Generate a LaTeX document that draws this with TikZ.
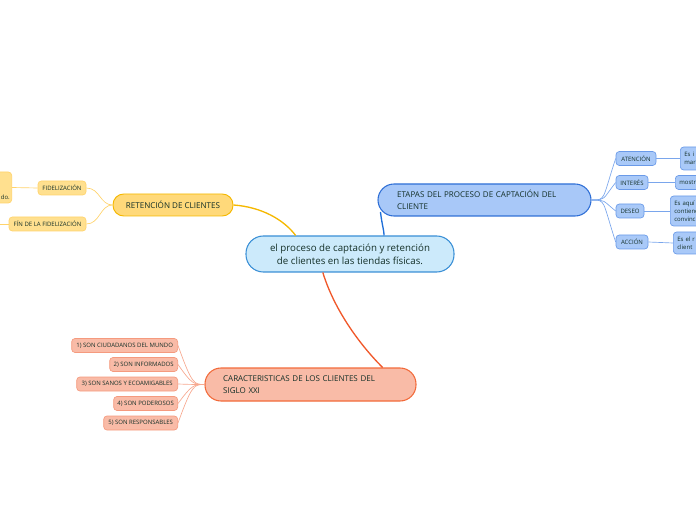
\documentclass[tikz,border=0pt]{standalone}
\usepackage{fontspec}
\setmainfont{Open Sans}
\usetikzlibrary{calc}

\begin{document}
\begin{tikzpicture}[x=0.75pt,y=0.75pt,yscale=-1,xscale=1,
  every node/.style={inner sep=0pt, text={rgb, 255:red, 20; green, 48; blue, 40 }},
  centre/.style={draw={rgb, 255:red, 58; green, 143; blue, 214 }, fill={rgb, 255:red, 204; green, 234; blue, 251 }, line width=0.8pt, rounded corners=13pt, minimum width=156pt, minimum height=27pt, align=center, font=\fontsize{7.3}{9.75}\selectfont},
  yelmain/.style={draw={rgb, 255:red, 245; green, 184; blue, 0 }, fill={rgb, 255:red, 255; green, 217; blue, 122 }, line width=0.7pt, rounded corners=8pt, minimum width=90pt, minimum height=16.5pt, font=\fontsize{6.05}{9}\selectfont},
  yelsub/.style={draw={rgb, 255:red, 255; green, 211; blue, 107 }, fill={rgb, 255:red, 255; green, 224; blue, 143 }, line width=0.5pt, rounded corners=2.5pt, minimum height=10.5pt, font=\fontsize{4.5}{6}\selectfont},
  bluemain/.style={draw={rgb, 255:red, 47; green, 111; blue, 214 }, fill={rgb, 255:red, 168; green, 200; blue, 248 }, line width=0.8pt, rounded corners=12pt, minimum width=159.75pt, minimum height=24pt, text width=131pt, inner xsep=14.25pt, align=left, font=\fontsize{6}{9}\selectfont},
  bluesub/.style={draw={rgb, 255:red, 106; green, 154; blue, 232 }, fill={rgb, 255:red, 169; green, 201; blue, 248 }, line width=0.5pt, rounded corners=2.5pt, minimum height=10.5pt, font=\fontsize{4.5}{6}\selectfont},
  bluecut/.style={bluesub, anchor=west, text width=60pt, inner xsep=3pt, align=left},
  redmain/.style={draw={rgb, 255:red, 242; green, 106; blue, 58 }, fill={rgb, 255:red, 249; green, 187; blue, 167 }, line width=0.8pt, rounded corners=12pt, minimum width=158.25pt, minimum height=24.75pt, text width=131pt, inner xsep=13.5pt, align=left, font=\fontsize{6}{9}\selectfont},
  redsub/.style={draw={rgb, 255:red, 245; green, 154; blue, 126 }, fill={rgb, 255:red, 249; green, 187; blue, 167 }, line width=0.5pt, rounded corners=2.5pt, minimum height=10.5pt, anchor=east, font=\fontsize{4.5}{6}\selectfont},
  yelline/.style={draw={rgb, 255:red, 255; green, 211; blue, 107 }, line width=0.5pt},
  blueline/.style={draw={rgb, 255:red, 122; green, 166; blue, 236 }, line width=0.5pt},
  redline/.style={draw={rgb, 255:red, 247; green, 168; blue, 143 }, line width=0.5pt}]
\useasboundingbox (0,0) rectangle (696,520);
\clip (0,0) rectangle (696,520);

% Central topic
\node[centre] (centre) at (350,254) {el proceso de captación y retención\\de clientes en las tiendas físicas.};

% Retencion branch
\node[yelmain] (reten) at (173,205) {RETENCIÓN DE CLIENTES};
\node[yelsub, minimum width=36pt] (fideli) at (62,188) {FIDELIZACIÓN};
\node[yelsub, minimum width=57.75pt] (finfid) at (47.5,224) {FÍN DE LA FIDELIZACIÓN};
\node[yelsub, minimum width=45pt, minimum height=23.25pt, anchor=east] (fidcut) at (12,187.5) {};
\node[font=\fontsize{4.5}{6}\selectfont, anchor=south east] (fidtext) at (10,199.5) {do.};
\coordinate (finout) at (-10,224);

\draw[draw={rgb, 255:red, 245; green, 184; blue, 0 }, line width=1pt] (reten.east) .. controls (262,207) and (284,220) .. ($(centre.north west)!0.24!(centre.north east)$);
\draw[yelline] (reten.west) .. controls (100,205) and (100,188) .. (fideli.east);
\draw[yelline] (reten.west) .. controls (100,205) and (100,224) .. (finfid.east);
\draw[yelline] (fideli.west) -- (fidcut.east);
\draw[yelline] (finfid.west) -- (finout);

% Etapas branch
\node[bluemain] (etapas) at (484.5,200) {ETAPAS DEL PROCESO DE CAPTACIÓN DEL\\CLIENTE};
\node[bluesub, minimum width=30pt] (atencion) at (636,158.5) {ATENCIÓN};
\node[bluesub, minimum width=24pt] (interes) at (632,182.5) {INTERÉS};
\node[bluesub, minimum width=21pt] (deseo) at (630,211) {DESEO};
\node[bluesub, minimum width=24pt] (accion) at (632,242) {ACCIÓN};
\node[bluecut, minimum height=17.25pt] (atcut) at (680,158.5) {Es i\\mar};
\node[bluecut] (incut) at (675,182.5) {mostra};
\node[bluecut, minimum height=22.5pt] (decut) at (670,211) {Es aquí\\contiene\\convinc};
\node[bluecut, minimum height=16.5pt] (accut) at (673,243) {Es el r\\client};

\draw[draw={rgb, 255:red, 31; green, 111; blue, 216 }, line width=1pt] ($(etapas.west)+(3,12)$) .. controls (382,225) and (384,230) .. ($(centre.north west)!0.663!(centre.north east)$);
\foreach \n in {atencion,interes,deseo,accion}
  \draw[blueline] (etapas.east) .. controls (606,200) and (602,200) .. (\n.west);
\draw[blueline] (atencion.east) -- (atcut.west);
\draw[blueline] (interes.east) -- (incut.west);
\draw[blueline] (deseo.east) -- (decut.west);
\draw[blueline] (accion.east) -- (accut.west);

% Caracteristicas branch
\node[redmain] (carac) at (310.5,384.5) {CARACTERISTICAS DE LOS CLIENTES DEL\\SIGLO XXI};
\node[redsub, minimum width=79.5pt] (son1) at (178,345.5) {1) SON CIUDADANOS DEL MUNDO};
\node[redsub, minimum width=51pt] (son2) at (178,364.5) {2) SON INFORMADOS};
\node[redsub, minimum width=75.75pt] (son3) at (178,384) {3) SON SANOS Y ECOAMIGABLES};
\node[redsub, minimum width=48pt] (son4) at (178,403.5) {4) SON PODEROSOS};
\node[redsub, minimum width=55.5pt] (son5) at (178,423) {5) SON RESPONSABLES};

\draw[draw={rgb, 255:red, 240; green, 88; blue, 42 }, line width=1pt] ($(centre.south west)!0.37!(centre.south east)$) .. controls (335,312) and (362,347) .. ($(carac.north west)!0.84!(carac.north east)$);
\foreach \n in {son1,son2,son3,son4,son5}
  \draw[redline] (carac.west) .. controls (194,384.5) and (192,384.5) .. (\n.east);
\end{tikzpicture}
\end{document}
